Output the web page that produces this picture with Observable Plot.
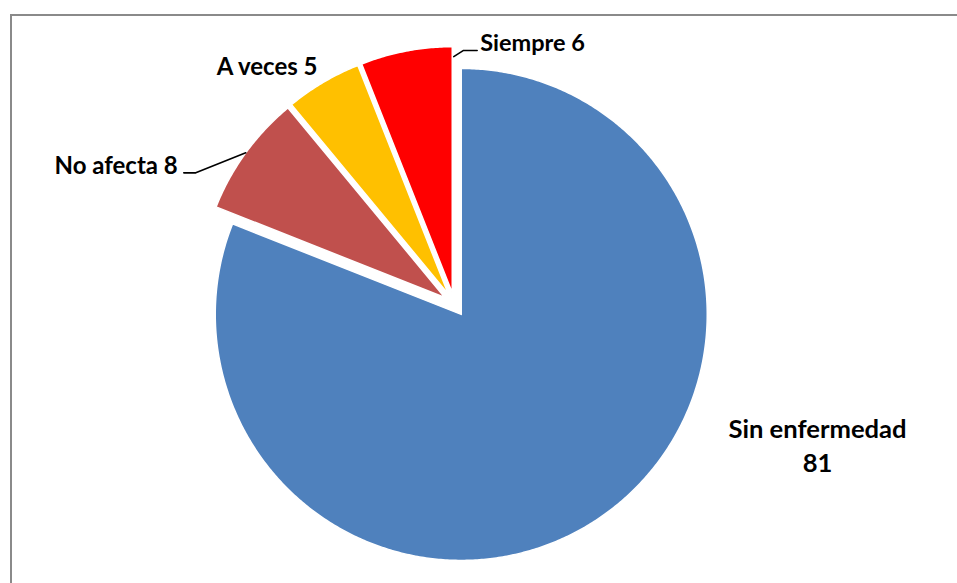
<!DOCTYPE html>
<html>
<head>
<meta charset="utf-8">
<script src="https://cdn.jsdelivr.net/npm/d3@7"></script>
<script src="https://cdn.jsdelivr.net/npm/@observablehq/plot@0.6"></script>
<style>
  html, body { margin: 0; padding: 0; background: #ffffff; }
  #wrap { position: relative; width: 957px; height: 583px; overflow: hidden; }
  #border { position: absolute; left: 10px; top: 14px; width: 1000px; height: 700px;
            border-left: 2px solid #8a8a8a; border-top: 2px solid #8a8a8a; box-sizing: border-box; }
  #chart { position: absolute; left: 0; top: 0; }
</style>
</head>
<body>
<div id="wrap"><div id="border"></div><div id="chart"></div></div>
<script>
// ---- data ----
const categories = ["Sin enfermedad", "No afecta", "A veces", "Siempre"];
const values = [81, 8, 5, 6];
const labelTexts = ["Sin enfermedad\n81", "No afecta 8", "A veces 5", "Siempre 6"];
const colors = ["#4F81BD", "#C0504D", "#FFC000", "#FF0000"];

// ---- layout ----
const W = 957, H = 583;
const cx = 454, cy = 304, R = 246, explode = 12;
// label placement relative to each slice's outer bisector point
const labelLayout = [
  {anchor: "middle", dx: 218, dy: -74, leader: null, size: 25.6, lh: 1.35},
  {anchor: "end", dx: -68, dy: 11.5, leader: "mid", size: 24, lh: 1.2},
  {anchor: "middle", dx: -56, dy: -17, leader: null, size: 24, lh: 1.2},
  {anchor: "start", dx: 74, dy: -9, leader: "edgeEnd", size: 23.5, lh: 1.2}
];
const FONT = "Lato, 'Open Sans', sans-serif";

const pie = d3.pie().sort(null).value(d => d.value)(categories.map((c, i) => ({name: c, value: values[i]})));
const dir = a => [Math.sin(a), -Math.cos(a)];

const slicePts = [];
const labels = [];
const leaders = [];
pie.forEach((arc, i) => {
  const mid = (arc.startAngle + arc.endAngle) / 2;
  const [ux, uy] = dir(mid);
  const vx = cx + explode * ux, vy = cy + explode * uy;
  const name = arc.data.name;
  slicePts.push({name, x: vx, y: vy});
  const n = Math.max(8, Math.ceil((arc.endAngle - arc.startAngle) / (Math.PI / 360)));
  for (let k = 0; k <= n; k++) {
    const t = arc.startAngle + (arc.endAngle - arc.startAngle) * k / n;
    const [px, py] = dir(t);
    slicePts.push({name, x: vx + R * px, y: vy + R * py});
  }
  const L = labelLayout[i];
  const bx = vx + R * ux, by = vy + R * uy;
  const lx = bx + L.dx, ly = by + L.dy;
  labels.push({name, text: labelTexts[i], x: lx, y: ly, anchor: L.anchor, size: L.size, lh: L.lh});
  if (L.leader === "mid") {
    leaders.push({name, x: bx, y: by});
    leaders.push({name, x: lx + 18, y: ly + 8.5});
    leaders.push({name, x: lx + 6, y: ly + 8.5});
  } else if (L.leader === "edgeEnd") {
    const [ex, ey] = dir(arc.endAngle);
    leaders.push({name, x: vx + 0.96 * R * ex + 1.5, y: vy + 0.96 * R * ey});
    leaders.push({name, x: lx - 17, y: ly + 8.5});
    leaders.push({name, x: lx - 3, y: ly + 8.5});
  }
});

const textMarks = labels.map(l => Plot.text([l], {
  x: "x", y: "y", text: "text", textAnchor: l.anchor,
  fontFamily: FONT, fontWeight: "bold", fontSize: l.size, fill: "#000", lineHeight: l.lh
}));

const chart = Plot.plot({
  width: W, height: H,
  marginTop: 0, marginRight: 0, marginBottom: 0, marginLeft: 0,
  x: {domain: [0, W], range: [0, W], axis: null},
  y: {domain: [0, H], range: [0, H], axis: null},
  color: {domain: categories, range: colors},
  style: {background: "transparent", overflow: "visible"},
  marks: [
    Plot.line(slicePts, {x: "x", y: "y", z: "name", fill: "name", stroke: "white", strokeWidth: 1.5, curve: "linear-closed"}),
    Plot.line(leaders, {x: "x", y: "y", z: "name", stroke: "#000", strokeWidth: 1.6}),
    ...textMarks
  ]
});
document.getElementById("chart").appendChild(chart);
</script>
</body>
</html>
